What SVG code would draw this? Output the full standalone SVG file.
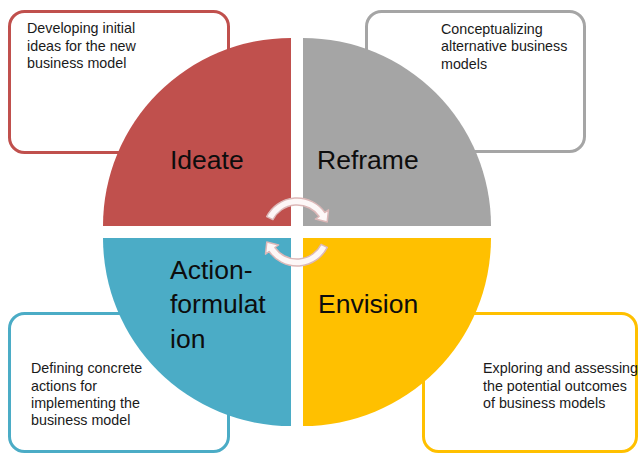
<svg xmlns="http://www.w3.org/2000/svg" width="639" height="454" viewBox="0 0 639 454">
<style>
.box{fill:#ffffff;stroke-width:3}
.desc{font-family:"Liberation Sans",Arial,sans-serif;font-size:14.3px;fill:#1a1a1a}
.lbl{font-family:"Liberation Sans",Arial,sans-serif;font-size:26.5px;fill:#0d0d0d}
.arw{fill:#fdf7f7;stroke:#dcb8b8;stroke-width:1.5;stroke-linejoin:round}
</style>
<defs>
<path id="carrow" d="M266.7,216.6 A34,34 0 0 1 324.9,212.5 L328.5,209.9 L327.2,221.9 L315.4,219.1 L319.1,216.5 A27,27 0 0 0 272.9,219.7 Z"/>
</defs>
<rect width="639" height="454" fill="#ffffff"/>
<g id="ideate">
<rect class="box" x="9.5" y="11.5" width="219" height="141" rx="15" stroke="#c0504d"/>
<text class="desc" x="27" y="33">Developing initial</text>
<text class="desc" x="27" y="50.7">ideas for the new</text>
<text class="desc" x="27" y="68.4">business model</text>
<path d="M291,226 L103,226 A188,188 0 0 1 291,38 Z" fill="#c0504d"/>
<text class="lbl" x="170" y="169">Ideate</text>
</g>
<g id="reframe">
<rect class="box" x="366.5" y="11.5" width="218" height="140" rx="15" stroke="#a5a5a5"/>
<text class="desc" x="441" y="33.5">Conceptualizing</text>
<text class="desc" x="441" y="51.2">alternative business</text>
<text class="desc" x="441" y="68.9">models</text>
<path d="M303,226 L303,38 A188,188 0 0 1 491,226 Z" fill="#a5a5a5"/>
<text class="lbl" x="317" y="169">Reframe</text>
</g>
<g id="envision">
<rect class="box" x="423.5" y="313.5" width="213" height="138" rx="15" stroke="#ffc000"/>
<text class="desc" x="483" y="373.3">Exploring and assessing</text>
<text class="desc" x="483" y="390.7">the potential outcomes</text>
<text class="desc" x="483" y="408">of business models</text>
<path d="M303,238 L491,238 A188,188 0 0 1 303,426 Z" fill="#ffc000"/>
<text class="lbl" x="318" y="313">Envision</text>
</g>
<g id="action-formulation">
<rect class="box" x="9.5" y="313.5" width="219" height="138" rx="15" stroke="#4bacc6"/>
<text class="desc" x="31" y="373.3">Defining concrete</text>
<text class="desc" x="31" y="390.6">actions for</text>
<text class="desc" x="31" y="407.9">implementing the</text>
<text class="desc" x="31" y="425.2">business model</text>
<path d="M291,238 L291,426 A188,188 0 0 1 103,238 Z" fill="#4bacc6"/>
<text class="lbl" x="170" y="278.5">Action-</text>
<text class="lbl" x="170" y="313">formulat</text>
<text class="lbl" x="170" y="347.5">ion</text>
</g>
<g id="connectors">
<use href="#carrow" class="arw"/>
<use href="#carrow" class="arw" transform="rotate(180 297 232)"/>
</g>
</svg>
